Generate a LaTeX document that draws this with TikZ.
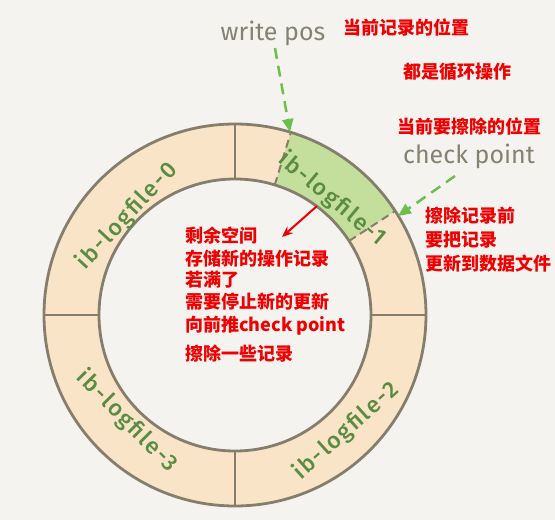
\documentclass[tikz,border=0pt]{standalone}
\usepackage{fontspec}
\setmainfont{Fira Sans}
\newfontfamily\cjk{Noto Sans CJK SC}
\newfontfamily\ringfont[LetterSpace=8]{Fira Sans Medium}
\usetikzlibrary{arrows.meta,calc}
\definecolor{bg}{HTML}{F4F3EF}
\definecolor{beige}{HTML}{FAE4C7}
\definecolor{lgreen}{HTML}{C4DF9C}
\definecolor{ringline}{HTML}{857E6D}
\definecolor{labgreen}{HTML}{5B8C43}
\definecolor{arrgreen}{HTML}{6BC04B}
\definecolor{hand}{HTML}{868272}
\definecolor{notered}{HTML}{F00000}
\tikzset{
  ringlab/.style={text=labgreen, font=\ringfont\fontsize{23}{25}\selectfont, inner sep=0pt},
  handlab/.style={text=hand, font=\fontsize{25}{27}\selectfont, inner sep=0pt},
  notetxt/.style={text=notered, font=\cjk\bfseries\fontsize{18}{22}\selectfont, inner sep=0pt, anchor=west},
  greenarrow/.style={draw=arrgreen, line width=2.5pt, dash pattern=on 11pt off 7pt, -{Triangle[length=13pt,width=11pt]}},
  redarrow/.style={draw=notered, line width=2pt, -{Stealth[length=11pt,width=9pt]}},
  divider/.style={draw=ringline, line width=2pt},
  dashdiv/.style={draw=ringline, line width=2pt, dash pattern=on 8pt off 5pt},
  ringedge/.style={draw=ringline, line width=2.8pt}
}
\begin{document}
\begin{tikzpicture}[x=1pt,y=-1pt]
\fill[bg] (0,0) rectangle (555,520);
\useasboundingbox (0,0) rectangle (555,520);
\coordinate (c) at (235,315);
% ring fills
\fill[beige, even odd rule] (c) circle[radius=191] (c) circle[radius=136];
\fill[lgreen] ($(c)+(-33:191)$) arc[start angle=-33,end angle=-73,radius=191]
  -- ($(c)+(-73:136)$) arc[start angle=-73,end angle=-33,radius=136] -- cycle;
% dividers
\foreach \a in {0,90,180,270}
  \draw[divider] ($(c)+(\a:136)$) -- ($(c)+(\a:191)$);
\foreach \a in {-33,-73}
  \draw[dashdiv] ($(c)+(\a:136)$) -- ($(c)+(\a:191)$);
% ring edges
\draw[ringedge] (c) circle[radius=191];
\draw[ringedge] (c) circle[radius=136];
% ring labels
\node[ringlab, rotate=47] (f0) at (127,216) {ib-logfile-0};
\node[ringlab, rotate=-40] (f1) at (332,199) {ib-logfile-1};
\node[ringlab, rotate=42] (f2) at (346,431) {ib-logfile-2};
\node[ringlab, rotate=-45] (f3) at (127,421) {ib-logfile-3};
% hand labels
\node[handlab] (wp) at (273,33) {write pos};
\node[handlab] (cp) at (469,156) {check point};
\coordinate (wpstart) at (275,48);
\coordinate (wptip) at (290,132);
\coordinate (cpstart) at (455,176);
\coordinate (cptip) at (398,216);
\draw[greenarrow] (wpstart) -- (wptip);
\draw[greenarrow] (cpstart) -- (cptip);
% red notes
\node[notetxt] (n1) at (343,28) {当前记录的位置};
\node[notetxt] (n2) at (403,72) {都是循环操作};
\node[notetxt] (n3) at (397,127) {当前要擦除的位置};
\node[notetxt] (n4) at (425,216) {擦除记录前};
\node[notetxt] (n5) at (425,240) {要把记录};
\node[notetxt] (n6) at (425,264) {更新到数据文件};
\node[notetxt] (m1) at (185,236) {剩余空间};
\node[notetxt] (m2) at (185,259) {存储新的操作记录};
\node[notetxt] (m3) at (185,280) {若满了};
\node[notetxt] (m4) at (185,302) {需要停止新的更新};
\node[notetxt] (m5) at (185,326) {向前推check point};
\node[notetxt] (m6) at (185,354) {擦除一些记录};
\coordinate (rastart) at (317,206);
\coordinate (ratip) at (282,237);
\draw[redarrow] (rastart) -- (ratip);
\end{tikzpicture}
\end{document}
